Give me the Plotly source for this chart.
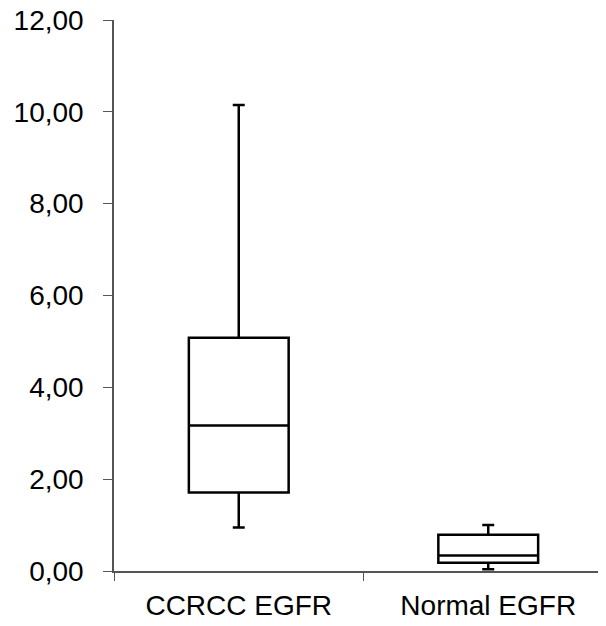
import plotly.graph_objects as go

categories = ["CCRCC EGFR", "Normal EGFR"]
q1 = [1.71, 0.18]
median = [3.17, 0.34]
q3 = [5.08, 0.79]
lower = [0.95, 0.04]
upper = [10.15, 1.00]
y_tickvals = [0, 2, 4, 6, 8, 10, 12]
y_ticktext = ["0,00", "2,00", "4,00", "6,00", "8,00", "10,00", "12,00"]

fig = go.Figure()
fig.add_trace(go.Box(
    x=categories, q1=q1, median=median, q3=q3,
    lowerfence=lower, upperfence=upper,
    width=0.4, whiskerwidth=0.12,
    fillcolor="white", line=dict(color="black", width=2.5),
    boxpoints=False, showlegend=False, hoverinfo="skip",
))

fig.update_layout(
    width=598, height=618,
    margin=dict(l=106, r=0, t=12, b=55),
    plot_bgcolor="white", paper_bgcolor="white",
    font=dict(family="Liberation Sans, Arial, sans-serif", size=28, color="black"),
)
fig.update_xaxes(
    type="category", range=[-0.5, 1.472], automargin=False,
    showline=True, linecolor="#555", linewidth=1.5,
    ticks="outside", tickson="boundaries", ticklen=8, tickcolor="#555", tickwidth=1,
    showgrid=False, zeroline=False,
    tickfont=dict(size=28), ticklabelstandoff=9, ticklabeloverflow="allow",
)
fig.update_yaxes(
    range=[0, 12], tickvals=y_tickvals, ticktext=y_ticktext, automargin=False,
    showline=True, linecolor="#555", linewidth=1.5,
    ticks="outside", ticklen=9, tickcolor="#555", tickwidth=1,
    showgrid=False, zeroline=False,
    tickfont=dict(size=28), ticklabelstandoff=14, ticklabeloverflow="allow",
)

fig.write_html("out.html")
